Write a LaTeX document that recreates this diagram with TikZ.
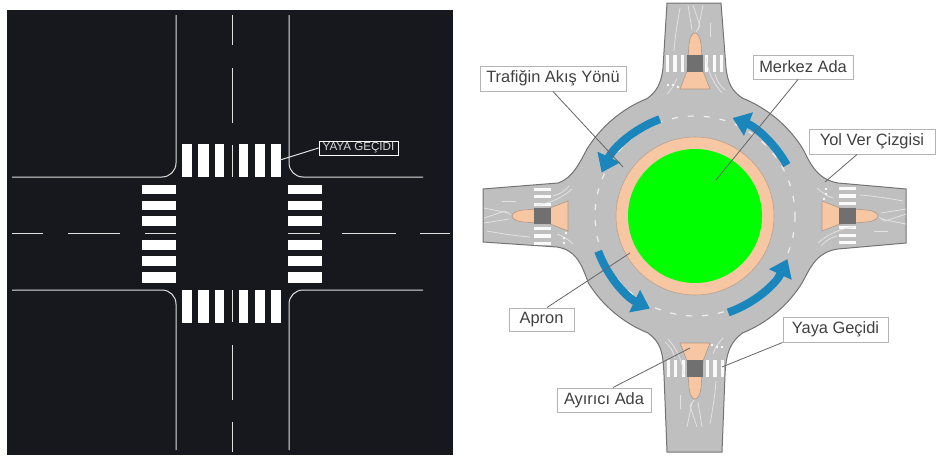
\documentclass[tikz,border=0pt]{standalone}
\usepackage{fontspec}
\setmainfont{Liberation Sans}
\usetikzlibrary{arrows.meta}
\definecolor{asphalt}{HTML}{BFBFBF}
\definecolor{edgegray}{HTML}{737373}
\definecolor{peach}{HTML}{F7C6A3}
\definecolor{blockgray}{HTML}{707070}
\definecolor{flowblue}{HTML}{1A86BC}
\definecolor{night}{HTML}{16181D}
\definecolor{labelink}{HTML}{404040}
\definecolor{labelline}{HTML}{B4B4B4}
\definecolor{leader}{HTML}{666666}
\tikzset{
  roadline/.style={draw=white!88!black,line width=1pt},
  zebra/.style={fill=white,draw=none},
  calloutbox/.style={draw=labelline,line width=1pt,fill=white,text=labelink,font=\fontsize{16.4}{18}\selectfont,inner xsep=0pt,inner ysep=0pt,align=center},
  leaderline/.style={draw=leader,line width=0.8pt},
  flowarrow/.style={draw=flowblue,line width=8pt,-{Triangle[length=17pt,width=24pt]}},
  lane/.style={draw=white!55!asphalt,line width=0.8pt},
}
\begin{document}
\begin{tikzpicture}[x=1pt,y=-1pt]
\useasboundingbox (0,0) rectangle (936,455);
\fill[white] (0,0) rectangle (936,455);
% ---------- left panel
\fill[night] (7,10) rectangle (453,455);
\draw[roadline] (176,15) -- (176,163) arc[start angle=0,end angle=90,radius=14] -- (12,177);
\draw[roadline] (289,15) -- (289,163) arc[start angle=180,end angle=90,radius=14] -- (423,177);
\draw[roadline] (176,450) -- (176,304) arc[start angle=0,end angle=-90,radius=14] -- (12,290);
\draw[roadline] (289,450) -- (289,304) arc[start angle=180,end angle=270,radius=14] -- (423,290);
\foreach \a/\b in {15/45,68/123,145/177,290/322,345/400,422/452}
  \draw[roadline] (232,\a) -- (232,\b);
\foreach \a/\b in {12/43,68/120,145/176,288/320,342/396,420/450}
  \draw[roadline] (\a,233) -- (\b,233);
\foreach \a/\b in {182/192,198/209,215/224,239/248,255/265,271/281}{
  \fill[zebra] (\a,144) rectangle (\b,177);
  \fill[zebra] (\a,290) rectangle (\b,323);
}
\foreach \a/\b in {185/194,201/210,216/226,240/250,256/266,272/283}{
  \fill[zebra] (142,\a) rectangle (176,\b);
  \fill[zebra] (288,\a) rectangle (322,\b);
}
\node[draw=white,line width=0.8pt,fill=night,text=white!85!black,font=\fontsize{11.6}{13}\selectfont,inner xsep=0pt,inner ysep=0pt,minimum width=79pt,minimum height=14pt] (yaya) at (358.5,148) {YAYA GEÇIDI};
\coordinate (yayaT) at (280,160);
\draw[roadline] (yaya.west) -- (yayaT);
% ---------- right panel: road surface
\draw[draw=edgegray,line width=1pt,fill=asphalt]
  (721,3) -- (726,68) .. controls (728,84) and (732,91) .. (742.6,98.2)
  arc[start angle=-68,end angle=-32,radius=127]
  .. controls (809,160) and (815,179) .. (838,183)
  -- (906,189) -- (906,243) -- (838,249)
  .. controls (815,252) and (809,271) .. (802,283)
  arc[start angle=32,end angle=68,radius=126]
  .. controls (732,341) and (726,350) .. (725,375)
  -- (722,452) -- (667,452) -- (664,375)
  .. controls (663,350) and (660,342) .. (648,333)
  arc[start angle=112,end angle=148,radius=126]
  .. controls (581,262) and (575,250) .. (557,247)
  -- (483,242) -- (483,189) -- (558,183)
  .. controls (573,178) and (580,162) .. (587,149)
  arc[start angle=212,end angle=248,radius=127]
  .. controls (657,91) and (661,84) .. (663,68) -- (667,3) -- cycle;
\draw[white!75!asphalt,line width=1.2pt,dash pattern=on 6pt off 10pt] (695,216) circle[radius=100];
% arm details, one arm turned to each side
\foreach \ang in {0,90,180,270}{
\begin{scope}[shift={(695,216)},rotate=\ang]
  \foreach \a/\b in {-29/-26,-22/-18,-14/-11,10/13,18/21,25/28}
    \fill[white!92!asphalt] (\a,-161) rectangle (\b,-144);
  \draw[lane] (-15,-208) .. controls (-18,-192) and (-20,-178) .. (-21,-165);
  \draw[lane] (-18,-138) .. controls (-20,-132) and (-24,-126) .. (-28,-122);
  \draw[lane] (-7,-211) -- (-3,-186);
  \draw[lane] (-2,-211) -- (5,-190) -- (1,-184);
  \draw[lane] (8,-211) -- (3,-186);
  \draw[lane] (15,-193) -- (15,-179);
  \draw[lane] (11,-159) .. controls (13,-143) and (19,-132) .. (27,-123);
  \draw[lane] (20,-142) .. controls (22,-135) and (25,-130) .. (30,-126);
  \fill[white!90!asphalt] (-27,-131) circle[radius=1.3] (-22,-131) circle[radius=1.3] (-17,-129) circle[radius=1.3];
  \path[fill=peach,draw=edgegray!55!peach,line width=0.6pt]
    (-15,-127) -- (15,-127) -- (8,-145) -- (6,-172)
    .. controls (5,-180) and (2,-183) .. (0,-183)
    .. controls (-2,-183) and (-5,-180) .. (-6,-172) -- (-8,-145) -- cycle;
  \fill[blockgray] (-8,-161) rectangle (8,-144);
\end{scope}}
% flow arrows
\draw[flowarrow] (695,216) ++(-110:103) arc[start angle=-110,end angle=-155,radius=103];
\draw[flowarrow] (695,216) ++(-29:105) arc[start angle=-29,end angle=-69,radius=105];
\draw[flowarrow] (695,216) ++(-200:103) arc[start angle=-200,end angle=-244,radius=103];
\draw[flowarrow] (695,216) ++(-289:102) arc[start angle=-289,end angle=-335,radius=102];
% central island
\fill[peach] (695,216) circle[radius=79];
\draw[edgegray!45!peach,line width=0.6pt] (695,216) circle[radius=79];
\fill[green] (695,216) circle[radius=67];
% callouts
\node[calloutbox,minimum width=146pt,minimum height=25pt] (trafik) at (553,78.5) {Trafiğin Akış Yönü};
\node[calloutbox,minimum width=100pt,minimum height=24pt] (merkez) at (803,67) {Merkez Ada};
\node[calloutbox,minimum width=126pt,minimum height=25pt] (yolver) at (872,141.5) {Yol Ver Çizgisi};
\node[calloutbox,minimum width=65pt,minimum height=23pt] (apron) at (541.5,319.5) {Apron};
\node[calloutbox,minimum width=105pt,minimum height=25pt] (yayag) at (835.5,329.5) {Yaya Geçidi};
\node[calloutbox,minimum width=94pt,minimum height=24pt] (ayirici) at (604,400) {Ayırıcı Ada};
\coordinate (trafikT) at (623,167);
\coordinate (merkezT) at (716,180);
\coordinate (yolverT) at (825,182);
\coordinate (apronT) at (630,253);
\coordinate (yayagT) at (722,367);
\coordinate (ayiriciT) at (690,348);
\draw[leaderline] (trafik.south) -- (trafikT);
\draw[leaderline] (merkez.south) ++(-5,0) -- (merkezT);
\draw[leaderline] (yolver.south) ++(-15,0) -- (yolverT);
\draw[leaderline] (apron.north) ++(5.5,0) -- (apronT);
\draw[leaderline] (yayag.south west) -- (yayagT);
\draw[leaderline] (ayirici.north) ++(9,0) -- (ayiriciT);
\end{tikzpicture}
\end{document}
